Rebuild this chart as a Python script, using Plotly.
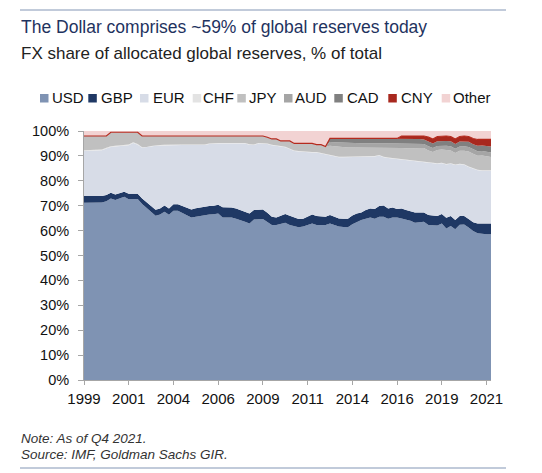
import plotly.graph_objects as go

quarters = [f"{y}Q{q}" for y in range(1999, 2022) for q in range(1, 5)]
tick_quarters = ["1999Q1", "2001Q3", "2004Q1", "2006Q3", "2009Q1",
                 "2011Q3", "2014Q1", "2016Q3", "2019Q1", "2021Q3"]
tick_labels = ["1999", "2001", "2004", "2006", "2009",
               "2011", "2014", "2016", "2019", "2021"]
y_tick_vals = [0, 10, 20, 30, 40, 50, 60, 70, 80, 90, 100]
y_tick_labels = ["0%", "10%", "20%", "30%", "40%", "50%", "60%", "70%", "80%", "90%", "100%"]

usd = [71.2, 71.2, 71.2, 71.2, 71.3, 71.8, 72.9, 72.3, 72.8, 73.6,
       72.6, 72.7, 72.7, 70.7, 69.0, 67.5, 66.0, 66.5, 67.6, 66.4,
       68.0, 68.0, 67.2, 66.4, 65.3, 65.6, 66.0, 66.3, 66.5, 66.6,
       66.9, 65.3, 65.3, 65.3, 64.8, 64.3, 63.6, 62.9, 64.5, 64.6,
       64.7, 63.5, 62.2, 62.2, 62.6, 63.2, 62.2, 61.8, 61.3, 61.6,
       62.3, 62.9, 62.2, 62.2, 62.2, 62.9, 62.2, 61.6, 61.4, 61.3,
       62.6, 63.5, 64.3, 64.8, 65.3, 64.8, 65.6, 65.6, 64.8, 65.3,
       65.3, 64.9, 64.5, 64.0, 63.2, 63.4, 63.6, 62.2, 62.1, 62.0,
       62.9, 60.8, 61.8, 60.5, 62.3, 62.4, 61.2, 59.8, 58.9, 58.6,
       58.5, 58.5]
gbp = [2.7, 2.7, 2.7, 2.7, 2.6, 2.5, 2.3, 2.2, 2.2, 2.0,
       2.2, 2.2, 2.1, 2.2, 2.3, 2.3, 2.4, 2.4, 2.5, 2.5,
       2.6, 2.6, 2.6, 2.6, 3.2, 3.4, 3.4, 3.3, 3.4, 3.4,
       3.5, 4.1, 4.1, 4.0, 4.1, 4.0, 3.9, 4.0, 3.8, 3.8,
       3.8, 3.7, 3.4, 3.1, 3.3, 3.5, 3.8, 3.4, 3.4, 3.2,
       3.5, 3.6, 3.7, 3.5, 3.4, 3.4, 3.3, 3.3, 3.4, 3.5,
       3.5, 3.4, 3.0, 3.5, 3.6, 3.9, 4.3, 4.5, 4.1, 4.0,
       3.4, 4.0, 3.8, 3.9, 4.1, 3.9, 3.7, 4.1, 4.0, 3.9,
       3.8, 4.4, 4.1, 3.8, 3.6, 3.5, 3.5, 3.6, 4.0, 4.3,
       4.4, 4.4]
eur = [18.1, 18.1, 18.2, 18.3, 18.4, 18.7, 18.4, 19.3, 19.0, 18.6,
       19.5, 20.3, 19.7, 20.4, 22.1, 24.0, 25.7, 25.3, 24.2, 25.5,
       23.8, 23.8, 24.6, 25.4, 25.9, 25.4, 25.0, 24.8, 24.9, 25.0,
       24.6, 25.6, 25.6, 25.7, 26.1, 26.7, 27.5, 27.6, 26.1, 26.6,
       26.5, 27.6, 28.7, 28.6, 27.9, 26.8, 26.6, 26.8, 27.1, 26.8,
       25.7, 24.9, 25.5, 25.3, 24.9, 23.7, 24.2, 24.6, 24.7, 24.7,
       23.6, 22.8, 22.4, 21.4, 20.8, 21.1, 20.3, 19.4, 20.3, 19.7,
       20.0, 19.6, 20.0, 20.1, 20.5, 20.4, 20.0, 20.8, 20.9, 20.9,
       20.3, 21.3, 20.9, 22.0, 20.7, 20.5, 20.8, 21.3, 21.3, 21.1,
       21.1, 21.1]
chf = [0.3] * 13 + [0.2] * 79
jpy = [5.7, 5.7, 5.6, 5.5, 5.4, 4.7, 5.6, 5.4, 5.2, 5.0,
       4.9, 4.0, 4.7, 4.5, 4.4, 4.0, 3.7, 3.6, 3.5, 3.4,
       3.4, 3.4, 3.4, 3.4, 3.4, 3.4, 3.4, 3.4, 3.0, 2.8,
       2.8, 2.8, 2.8, 2.8, 2.8, 2.8, 2.8, 3.3, 3.4, 2.8,
       2.8, 2.5, 2.3, 2.7, 2.0, 2.3, 3.2, 2.8, 3.0, 3.2,
       3.3, 3.4, 2.9, 3.3, 3.1, 3.9, 4.0, 4.0, 3.7, 3.7,
       3.5, 3.5, 3.6, 3.6, 3.5, 3.4, 2.8, 3.6, 4.0, 4.2,
       4.5, 4.5, 4.6, 4.9, 5.0, 5.3, 5.7, 4.9, 4.4, 5.4,
       5.4, 5.7, 5.2, 4.7, 5.3, 5.5, 6.1, 6.0, 5.7, 6.0,
       5.7, 5.4]
aud = [0.0] * 55 + [1.5, 1.6, 1.7, 1.8, 1.8, 1.8, 1.7, 1.6, 1.6, 1.8,
                    1.8, 1.9, 1.8, 1.7, 1.7, 1.7, 1.7, 1.8, 1.8, 1.8,
                    1.7, 1.6, 1.7, 1.6, 1.6, 1.6, 1.7, 1.7, 1.7, 1.7,
                    1.8, 1.8, 1.7, 1.8, 1.8, 1.8, 1.8]
cad = [0.0] * 55 + [1.4, 1.5, 1.6, 1.8, 1.8, 1.8, 1.9, 1.9, 1.9, 1.8,
                    1.8, 1.9, 1.9, 1.9, 1.9, 1.9, 2.0, 2.0, 2.0, 2.0,
                    1.9, 1.8, 1.9, 1.8, 1.9, 1.9, 1.9, 2.0, 1.9, 2.0,
                    2.0, 2.1, 2.1, 2.2, 2.2, 2.3, 2.4]
cny = [0.0] * 71 + [1.1, 1.1, 1.1, 1.2, 1.2, 1.4, 1.8, 1.8, 1.9, 1.9,
                    2.0, 1.9, 2.0, 2.0, 2.1, 2.1, 2.3, 2.5, 2.4, 2.6, 2.8]
other = ([2.0] * 6 + [0.5] * 7 + [2.0] * 28 + [2.5, 3.2, 3.2, 4.0, 4.0, 4.0,
         5.0, 5.0, 5.0, 5.0, 5.0, 5.5, 5.5, 6.2] + [3.0] * 16 + [2.0] * 6 +
         [2.4, 3.2, 2.2, 2.0, 2.0, 2.2, 3.2, 2.2, 2.0, 2.2, 3.0, 3.4, 3.4, 3.4, 3.4])

series = [
    ("USD", usd, "#7f93b3"),
    ("GBP", gbp, "#1f3864"),
    ("EUR", eur, "#d7dce7"),
    ("CHF", chf, "#e3e3e3"),
    ("JPY", jpy, "#c0c0c0"),
    ("AUD", aud, "#a5a5a5"),
    ("CAD", cad, "#808080"),
    ("CNY", cny, "#a8281e"),
    ("Other", other, "#f2d3d3"),
]

FONT = "Liberation Sans, Arial, sans-serif"
fig = go.Figure()
for name, vals, col in series:
    if name == "CNY":
        line = dict(width=1.2, color="#b52a1e")
    else:
        line = dict(width=0, color=col)
    fig.add_trace(go.Scatter(x=quarters, y=vals, name=name, mode="lines",
                             stackgroup="one", fillcolor=col, line=line,
                             hoverinfo="skip", showlegend=False))

L, R, T, B, W, H = 84, 51, 131, 93, 542, 473
PW, PH = W - L - R, H - T - B


def px(x):
    return (x - L) / PW


def py(y):
    return (H - B - y) / PH


annotations = [
    dict(text="The Dollar comprises ~59% of global reserves today", x=px(19), y=py(27.5),
         xanchor="left", yanchor="middle", font=dict(size=17.5, color="#1f3360", family=FONT)),
    dict(text="FX share of allocated global reserves, % of total", x=px(19), y=py(53.5),
         xanchor="left", yanchor="middle", font=dict(size=17, color="#222222", family=FONT)),
    dict(text="<i>Note: As of Q4 2021.</i>", x=px(19), y=py(438),
         xanchor="left", yanchor="middle", font=dict(size=13.5, color="#333333", family=FONT)),
    dict(text="<i>Source: IMF, Goldman Sachs GIR.</i>", x=px(19), y=py(454),
         xanchor="left", yanchor="middle", font=dict(size=13.5, color="#333333", family=FONT)),
]
shapes = [
    dict(type="line", xref="paper", yref="paper", x0=px(20), x1=px(506), y0=py(10), y1=py(10),
         line=dict(color="#8396b5", width=1)),
    dict(type="line", xref="paper", yref="paper", x0=px(20), x1=px(506), y0=py(468), y1=py(468),
         line=dict(color="#8396b5", width=1)),
]
sq_x = [40, 88.3, 140, 192.7, 237.3, 284, 334.3, 388.3, 441.7]
tx_x = [49.5, 98.5, 150.5, 201, 247, 292.5, 345, 398.5, 451]
for (name, vals, col), sx, tx in zip(series, sq_x, tx_x):
    shapes.append(dict(type="rect", xref="paper", yref="paper", x0=px(sx), x1=px(sx + 8.5),
                       y0=py(102.5), y1=py(94), fillcolor=col, line=dict(width=0)))
    annotations.append(dict(text=name, x=px(tx), y=py(97.7), xanchor="left", yanchor="middle",
                            showarrow=False, font=dict(size=15, color="#111111", family=FONT)))
for a in annotations:
    a.update(xref="paper", yref="paper", showarrow=False)

fig.update_layout(
    width=W, height=H, margin=dict(l=L, r=R, t=T, b=B, pad=0),
    paper_bgcolor="white", plot_bgcolor="white",
    font=dict(family=FONT, size=15, color="#111111"),
    showlegend=False, hovermode=False,
    annotations=annotations, shapes=shapes,
    xaxis=dict(type="category", range=[0, len(quarters) - 1], tickmode="array",
               tickvals=tick_quarters, ticktext=tick_labels, showgrid=False,
               showline=True, linecolor="#a6a6a6", linewidth=1, ticks="outside",
               ticklen=4, tickcolor="#a6a6a6", tickfont=dict(size=15, color="#111111"),
               ticklabelstandoff=1, zeroline=False),
    yaxis=dict(range=[0, 100], tickmode="array", tickvals=y_tick_vals,
               ticktext=y_tick_labels, showgrid=False, showline=True, linecolor="#a6a6a6",
               linewidth=1, ticks="outside", ticklen=5, tickcolor="#a6a6a6",
               tickfont=dict(size=14.5, color="#111111"), ticklabelstandoff=6, zeroline=False),
)

fig.write_html("out.html")
